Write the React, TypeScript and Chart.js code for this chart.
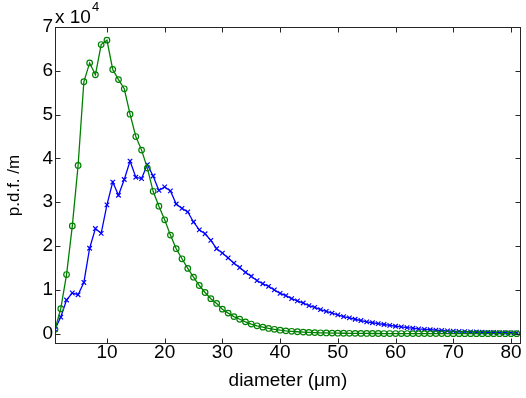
import React, { useEffect, useRef } from 'react';
import { Chart, registerables } from 'chart.js';

Chart.register(...registerables);

// Diameter (µm) of each sample
const diameters = [
  1, 2, 3, 4, 5, 6, 7, 8, 9, 10,
  11, 12, 13, 14, 15, 16, 17, 18, 19, 20,
  21, 22, 23, 24, 25, 26, 27, 28, 29, 30,
  31, 32, 33, 34, 35, 36, 37, 38, 39, 40,
  41, 42, 43, 44, 45, 46, 47, 48, 49, 50,
  51, 52, 53, 54, 55, 56, 57, 58, 59, 60,
  61, 62, 63, 64, 65, 66, 67, 68, 69, 70,
  71, 72, 73, 74, 75, 76, 77, 78, 79, 80,
  81,
];

// p.d.f. values in units of 10^4 /m — green circles series
const pdfCircles = [
  0.10, 0.57, 1.35, 2.46, 3.84, 5.75, 6.18, 5.91, 6.60, 6.70,
  6.03, 5.80, 5.59, 5.01, 4.50, 4.19, 3.78, 3.25, 2.91, 2.60,
  2.25, 1.94, 1.71, 1.49, 1.29, 1.10, 0.94, 0.80, 0.69, 0.56,
  0.47, 0.39, 0.33, 0.27, 0.22, 0.18, 0.15, 0.12, 0.10, 0.08,
  0.065, 0.055, 0.045, 0.037, 0.030, 0.025, 0.021, 0.017, 0.014, 0.012,
  0.010, 0.009, 0.008, 0.007, 0.006, 0.005, 0.005, 0.004, 0.004, 0.003,
  0.003, 0.003, 0.002, 0.002, 0.002, 0.002, 0.002, 0.002, 0.001, 0.001,
  0.001, 0.001, 0.001, 0.001, 0.001, 0.001, 0.001, 0.001, 0.001, 0.001,
  0.001,
];

// p.d.f. values in units of 10^4 /m — blue crosses series
const pdfCrosses = [
  0.10, 0.38, 0.77, 0.93, 0.89, 1.17, 1.95, 2.40, 2.29, 2.94,
  3.46, 3.16, 3.52, 3.94, 3.57, 3.54, 3.86, 3.60, 3.27, 3.35,
  3.26, 2.96, 2.86, 2.78, 2.55, 2.37, 2.28, 2.13, 1.94, 1.84,
  1.73, 1.61, 1.51, 1.40, 1.31, 1.21, 1.14, 1.08, 1.00, 0.92,
  0.87, 0.80, 0.75, 0.70, 0.64, 0.60, 0.55, 0.51, 0.47, 0.43,
  0.39, 0.36, 0.33, 0.30, 0.27, 0.25, 0.23, 0.21, 0.19, 0.17,
  0.155, 0.14, 0.125, 0.11, 0.10, 0.09, 0.08, 0.072, 0.065, 0.058,
  0.052, 0.047, 0.042, 0.038, 0.034, 0.031, 0.028, 0.025, 0.022, 0.020,
  0.018,
];

const xTickValues = [10, 20, 30, 40, 50, 60, 70, 80];
const yTickValues = [0, 1, 2, 3, 4, 5, 6, 7];
const xLabel = 'diameter (\u03BCm)';
const yLabel = 'p.d.f. /m';
const exponentBase = 'x 10';
const exponentPower = '4';

const FONT = "'Liberation Sans', Arial, Helvetica, sans-serif";
const AXIS_COLOR = '#262626';

const framePlugin = {
  id: 'matlabFrame',
  afterDraw(chart: any) {
    const { ctx, chartArea: a, scales } = chart;
    const L = Math.round(a.left) + 0.5;
    const R = Math.round(a.right) - 0.5;
    const T = Math.round(a.top) + 0.5;
    const B = Math.round(a.bottom) - 0.5;
    ctx.save();
    ctx.strokeStyle = AXIS_COLOR;
    ctx.lineWidth = 1;
    ctx.strokeRect(L, T, R - L, B - T);
    const tl = 5;
    ctx.beginPath();
    for (const v of xTickValues) {
      const px = Math.round(scales.x.getPixelForValue(v)) + 0.5;
      ctx.moveTo(px, B);
      ctx.lineTo(px, B - tl);
      ctx.moveTo(px, T);
      ctx.lineTo(px, T + tl);
    }
    for (const v of yTickValues) {
      const py = Math.round(scales.y.getPixelForValue(v)) + 0.5;
      ctx.moveTo(L, py);
      ctx.lineTo(L + tl, py);
      ctx.moveTo(R, py);
      ctx.lineTo(R - tl, py);
    }
    ctx.stroke();
    // exponent label
    ctx.fillStyle = '#000';
    ctx.textAlign = 'left';
    ctx.textBaseline = 'alphabetic';
    ctx.font = `19px ${FONT}`;
    ctx.fillText(exponentBase, a.left, 23);
    const w = ctx.measureText(exponentBase).width;
    ctx.font = `13px ${FONT}`;
    ctx.fillText(exponentPower, a.left + w + 1, 11);
    ctx.restore();
  },
};

export default function App() {
  const ref = useRef<HTMLCanvasElement | null>(null);

  useEffect(() => {
    if (!ref.current) return;
    const chart = new Chart(ref.current, {
      type: 'line',
      data: {
        datasets: [
          {
            label: 'circles',
            data: diameters.map((d, i) => ({ x: d, y: pdfCircles[i] })),
            borderColor: '#008000',
            backgroundColor: 'rgba(0,0,0,0)',
            borderWidth: 1.3,
            pointStyle: 'circle',
            pointRadius: 2.8,
            pointBorderWidth: 1.2,
            pointBorderColor: '#008000',
            pointBackgroundColor: 'rgba(0,0,0,0)',
            fill: false,
            tension: 0,
          },
          {
            label: 'crosses',
            data: diameters.map((d, i) => ({ x: d, y: pdfCrosses[i] })),
            borderColor: '#0000ff',
            backgroundColor: 'rgba(0,0,0,0)',
            borderWidth: 1.3,
            pointStyle: 'crossRot',
            pointRadius: 3.2,
            pointBorderWidth: 1.2,
            pointBorderColor: '#0000ff',
            fill: false,
            tension: 0,
          },
        ],
      },
      options: {
        responsive: false,
        animation: false,
        events: [],
        layout: { padding: { left: 0, right: 1, top: 27, bottom: 0 } },
        plugins: {
          legend: { display: false },
          tooltip: { enabled: false },
        },
        scales: {
          x: {
            type: 'linear',
            min: 1,
            max: 81.7,
            afterBuildTicks: (s: any) => {
              s.ticks = xTickValues.map((v) => ({ value: v }));
            },
            afterFit: (s: any) => {
              s.height = 54;
            },
            grid: { display: false, drawTicks: false },
            border: { display: false },
            ticks: {
              font: { family: FONT, size: 19 },
              color: '#000',
              padding: -3,
              maxRotation: 0,
              autoSkip: false,
            },
            title: {
              display: true,
              text: xLabel,
              font: { family: FONT, size: 19 },
              color: '#000',
              padding: { top: 0, bottom: 6 },
            },
          },
          y: {
            type: 'linear',
            min: -0.235,
            max: 7,
            afterBuildTicks: (s: any) => {
              s.ticks = yTickValues.map((v) => ({ value: v }));
            },
            afterFit: (s: any) => {
              s.width = 55;
            },
            grid: { display: false, drawTicks: false },
            border: { display: false },
            ticks: {
              font: { family: FONT, size: 19 },
              color: '#000',
              padding: 2,
              autoSkip: false,
              callback: (v: any) => String(v),
            },
            title: {
              display: true,
              text: yLabel,
              font: { family: FONT, size: 17 },
              color: '#000',
              padding: { top: 4, bottom: 0 },
            },
          },
        },
      },
      plugins: [framePlugin],
    });
    return () => chart.destroy();
  }, []);

  return (
    <div style={{ position: 'absolute', left: 0, top: 0, width: 526, height: 398, background: '#fff' }}>
      <canvas ref={ref} width={526} height={398} style={{ display: 'block' }} />
    </div>
  );
}
